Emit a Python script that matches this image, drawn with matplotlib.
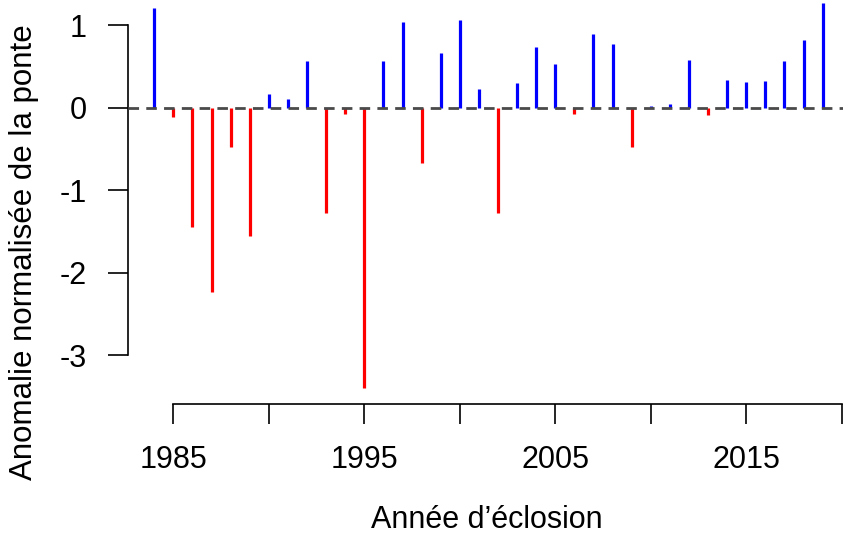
import matplotlib
matplotlib.use("Agg")
import matplotlib.pyplot as plt

plt.rcParams['font.family'] = ['Liberation Sans', 'DejaVu Sans']

# années d'éclosion et anomalies normalisées de la ponte
annees = list(range(1984, 2020))
anomalies = [1.21, -0.11, -1.44, -2.23, -0.48, -1.56, 0.16, 0.11, 0.57, -1.27,
             -0.08, -3.40, 0.56, 1.04, -0.67, 0.66, 1.06, 0.23, -1.28, 0.30,
             0.74, 0.53, -0.08, 0.89, 0.77, -0.48, 0.02, 0.04, 0.58, -0.09,
             0.33, 0.31, 0.32, 0.56, 0.82, 1.27]

xticks = [1985, 1990, 1995, 2000, 2005, 2010, 2015, 2020]
xlabels = ['1985', '', '1995', '', '2005', '', '2015', '']
yticks = [-3, -2, -1, 0, 1]

W, H = 843, 537
fig = plt.figure(figsize=(W / 100, H / 100), dpi=100)

# zone de tracé (style R, extension de 4 %)
left, right = 127.5, 849.4
top, bottom = -12.7, 403.9
ax = fig.add_axes([left / W, (H - bottom) / H, (right - left) / W, (bottom - top) / H])

couleurs = ['blue' if v >= 0 else 'red' for v in anomalies]
ax.vlines(annees, 0, anomalies, colors=couleurs, lw=2.3, zorder=2)
ax.axhline(0, color='#4a4a4a', lw=2.0, dashes=(3.8, 2.6), zorder=3)

ax.set_xlim(1982.6, 2020.4)
ax.set_ylim(-3.587, 1.457)

for s in ['top', 'right']:
    ax.spines[s].set_visible(False)
ax.spines['left'].set_bounds(-3, 1)
ax.spines['bottom'].set_bounds(1985, 2020)
for s in ['left', 'bottom']:
    ax.spines[s].set_linewidth(1.2)
    ax.spines[s].set_clip_on(False)

ax.set_xticks(xticks)
ax.set_xticklabels(xlabels)
ax.set_yticks(yticks)
ax.set_yticklabels([str(t) for t in yticks])
ax.tick_params(direction='out', length=14.4, width=1.2, labelsize=22, pad=15)

fig.text(486.5 / W, 9 / H, 'Année d\u2019éclosion', ha='center', va='baseline', fontsize=22)
fig.text(24 / W, 1 - 252 / H, 'Anomalie normalisée de la ponte', rotation=90,
         ha='center', va='center', fontsize=22.5)

fig.savefig('out.png', dpi=100)
